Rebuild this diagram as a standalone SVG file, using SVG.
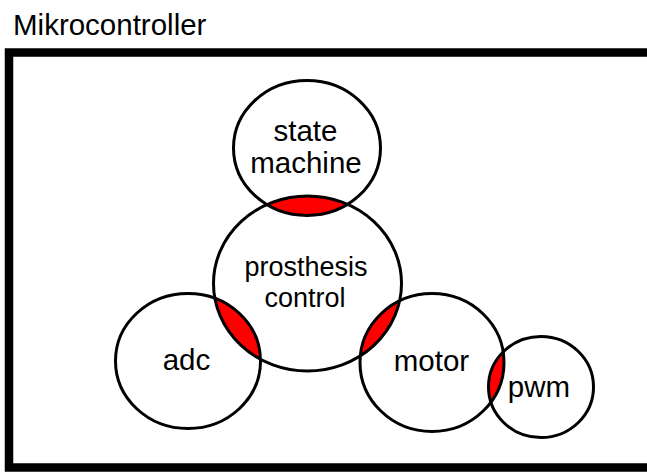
<svg xmlns="http://www.w3.org/2000/svg" width="647" height="472" viewBox="0 0 647 472">
<style>
.node{fill:none;stroke:#000;stroke-width:3}
.lbl{font-family:"Liberation Sans",Arial,sans-serif;font-size:29.5px;fill:#000;text-anchor:middle}
.lens{fill:#ff0000;stroke:none}
</style>
<defs>
<clipPath id="cp-prosthesis"><ellipse cx="307.5" cy="283.5" rx="94" ry="87.5"/></clipPath>
<clipPath id="cp-motor"><ellipse cx="432" cy="362.5" rx="72" ry="69"/></clipPath>
</defs>
<rect x="9" y="52.5" width="650" height="415" fill="#fff" stroke="#000" stroke-width="8.5"/>
<text x="13" y="35" style="font-family:'Liberation Sans',Arial,sans-serif;font-size:29.5px;fill:#000">Mikrocontroller</text>
<g id="connectors">
<ellipse class="lens" cx="307" cy="148" rx="73.5" ry="67.5" clip-path="url(#cp-prosthesis)"/>
<ellipse class="lens" cx="188" cy="361" rx="72.5" ry="67.5" clip-path="url(#cp-prosthesis)"/>
<ellipse class="lens" cx="432" cy="362.5" rx="72" ry="69" clip-path="url(#cp-prosthesis)"/>
<ellipse class="lens" cx="541" cy="387" rx="52.5" ry="50.5" clip-path="url(#cp-motor)"/>
</g>
<g id="state-machine">
<ellipse class="node" cx="307" cy="148" rx="73.5" ry="67.5"/>
<text class="lbl" x="305.5" y="141">state</text>
<text class="lbl" x="306" y="173">machine</text>
</g>
<g id="prosthesis-control">
<ellipse class="node" cx="307.5" cy="283.5" rx="94" ry="87.5"/>
<text class="lbl" x="306" y="276" style="font-size:27px">prosthesis</text>
<text class="lbl" x="305" y="307" style="font-size:27px">control</text>
</g>
<g id="adc">
<ellipse class="node" cx="188" cy="361" rx="72.5" ry="67.5"/>
<text class="lbl" x="186.5" y="370">adc</text>
</g>
<g id="motor">
<ellipse class="node" cx="432" cy="362.5" rx="72" ry="69"/>
<text class="lbl" x="431.5" y="371">motor</text>
</g>
<g id="pwm">
<ellipse class="node" cx="541" cy="387" rx="52.5" ry="50.5"/>
<text class="lbl" x="539" y="397">pwm</text>
</g>
</svg>
